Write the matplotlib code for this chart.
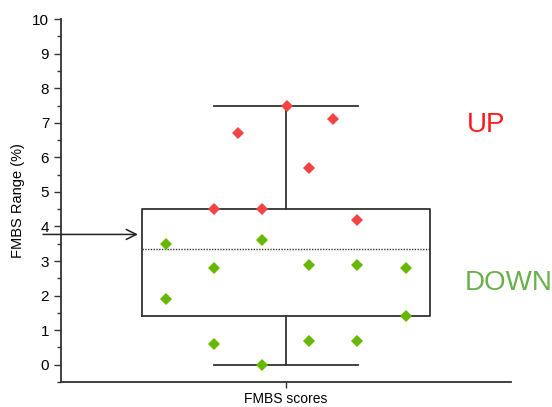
import matplotlib
matplotlib.use("Agg")
import matplotlib.pyplot as plt
from matplotlib.ticker import MultipleLocator

plt.rcParams['font.family'] = ['Liberation Sans', 'DejaVu Sans']

# Data
up_x = [0.68, 0.787, 0.893, 1.004, 1.102, 1.209, 1.316]
up_y = [4.5, 6.7, 4.5, 7.5, 5.7, 7.1, 4.2]
down_x = [0.467, 0.467, 0.68, 0.68, 0.893, 0.893, 1.102, 1.102, 1.316, 1.316, 1.533, 1.533]
down_y = [3.5, 1.9, 2.8, 0.6, 3.6, 0.0, 2.9, 0.7, 2.9, 0.7, 2.8, 1.4]
box_q1, box_q3 = 1.4, 4.5
box_mid = 3.36
whisk_lo, whisk_hi = 0.0, 7.5
arrow_y = 3.77
category = "FMBS scores"

fig = plt.figure(figsize=(5.52, 4.07), dpi=100)
ax = fig.add_axes([0.1105, 0.0614, 0.8152, 0.8916])

center = 1.0
box_half = 0.64
cap_half = 0.322
lc = '#333333'

# box
ax.plot([center - box_half, center + box_half, center + box_half, center - box_half, center - box_half],
        [box_q1, box_q1, box_q3, box_q3, box_q1], color=lc, lw=1.3, zorder=2)
ax.plot([center - box_half, center + box_half], [box_mid, box_mid], color=lc, lw=1.0, ls=(0, (1, 1)), zorder=2)
# whiskers
ax.plot([center, center], [box_q3, whisk_hi], color=lc, lw=1.3, zorder=2)
ax.plot([center, center], [whisk_lo, box_q1], color=lc, lw=1.3, zorder=2)
ax.plot([center - cap_half, center + cap_half], [whisk_hi, whisk_hi], color=lc, lw=1.3, zorder=2)
ax.plot([center - cap_half, center + cap_half], [whisk_lo, whisk_lo], color=lc, lw=1.3, zorder=2)

ax.plot(up_x, up_y, 'D', color='#f24444', markersize=6.5, markeredgewidth=0, zorder=3)
ax.plot(down_x, down_y, 'D', color='#66b800', markersize=6.5, markeredgewidth=0, zorder=3)

ax.set_xlim(0, 2)
ax.set_ylim(-0.5, 10)
ax.set_xticks([center])
ax.set_xticklabels([category], fontsize=10)
ax.set_yticks(range(0, 11))
ax.yaxis.set_minor_locator(MultipleLocator(0.5))
ax.tick_params(axis='y', which='major', direction='out', length=5, width=1, labelsize=11, color=lc)
ax.tick_params(axis='y', which='minor', direction='out', length=3, width=1, color=lc)
ax.tick_params(axis='x', which='major', direction='out', length=4, width=1, color=lc, pad=3)
ax.set_ylabel('FMBS Range (%)', fontsize=10.5, labelpad=5)

for s in ['top', 'right']:
    ax.spines[s].set_visible(False)
for s in ['left', 'bottom']:
    ax.spines[s].set_color(lc)
    ax.spines[s].set_linewidth(1.3)
ax.spines['left'].set_bounds(-0.5, 10)

ax.annotate('', xy=(center - box_half - 0.018, arrow_y), xytext=(-0.08, arrow_y),
            xycoords='data', textcoords='data', annotation_clip=False,
            arrowprops=dict(arrowstyle='->', color='#222222', lw=1.1, mutation_scale=18,
                            shrinkA=0, shrinkB=0))

fig.text(467 / 552, 1 - 125 / 407, 'UP', color='#ff1a1a', fontsize=20, ha='left', va='center')
fig.text(465 / 552, 1 - 283 / 407, 'DOWN', color='#6ab04c', fontsize=20, ha='left', va='center')

fig.savefig('out.png', dpi=100)
